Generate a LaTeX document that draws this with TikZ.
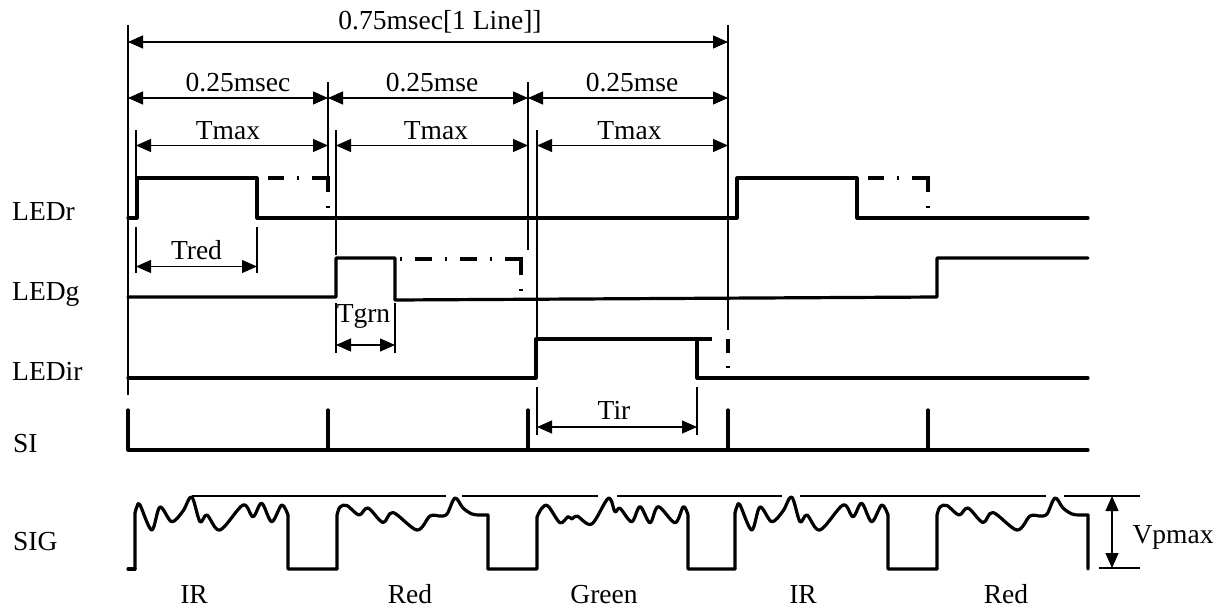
\documentclass[tikz,border=0pt]{standalone}
\usepackage{fontspec}
\setmainfont{Liberation Serif}
\usetikzlibrary{arrows.meta}

\tikzset{
	sig/.style={line width=3.2pt, line cap=round, line join=round},
	dashsig/.style={line width=3.2pt, line cap=butt},
	ext/.style={line width=1.2pt},
	dimline/.style={line width=1.2pt, {Triangle[length=15pt,width=13pt]}-{Triangle[length=15pt,width=13pt]}},
	wave/.style={smooth, tension=0.55},
	lbl/.style={anchor=base west},
	tag/.style={anchor=base},
}

\begin{document}
\begin{tikzpicture}[x=1pt, y=-1pt, every node/.style={inner sep=0pt}, font=\fontsize{27.5}{30}\selectfont]
	\useasboundingbox (0,0) rectangle (1228,608);

	% row names
	\node[lbl] (ledr) at (12,220) {LEDr};
	\node[lbl] (ledg) at (12,300) {LEDg};
	\node[lbl] (ledir) at (12,380) {LEDir};
	\node[lbl] (si) at (13,452) {SI};
	\node[lbl] (sig) at (13,550) {SIG};

	% extension lines
	\foreach \x/\a/\b in {128/25/395, 728/25/330, 328/82/178, 528/82/250, 136/130/178, 336/130/255, 537/130/337,
			136/227/273, 257/227/273, 336/303/353, 395/303/353, 537/387/435, 697/387/435}
		\draw[ext] (\x,\a) -- (\x,\b);

	% time spans
	\coordinate (L0) at (128,42);
	\coordinate (L3) at (728,42);
	\coordinate (P0) at (128,98);
	\coordinate (P1) at (328,98);
	\coordinate (P2) at (528,98);
	\coordinate (P3) at (728,98);
	\coordinate (M0) at (136,145.5);
	\coordinate (M1) at (328,145.5);
	\coordinate (M2) at (336,145.5);
	\coordinate (M3) at (528,145.5);
	\coordinate (M4) at (537,145.5);
	\coordinate (M5) at (728,145.5);
	\coordinate (R0) at (136,266.5);
	\coordinate (R1) at (257,266.5);
	\coordinate (G0) at (336,345);
	\coordinate (G1) at (395,345);
	\coordinate (I0) at (537,427);
	\coordinate (I1) at (697,427);
	\coordinate (V0) at (1112,496);
	\coordinate (V1) at (1112,568);

	\path[dimline]
		(L0) edge node[above=8pt, xshift=12pt] (line) {0.75msec[1 Line]]} (L3)
		(P0) edge node[above=6pt, xshift=10pt] (span1) {0.25msec} (P1)
		(P1) edge node[above=6pt, xshift=4pt] (span2) {0.25mse} (P2)
		(P2) edge node[above=6pt, xshift=4pt] (span3) {0.25mse} (P3)
		(M0) edge node[above=5.5pt, xshift=-4pt] (tmax1) {Tmax} (M1)
		(M2) edge node[above=5.5pt, xshift=4pt] (tmax2) {Tmax} (M3)
		(M4) edge node[above=5.5pt, xshift=-3pt] (tmax3) {Tmax} (M5)
		(R0) edge node[above=6.5pt] (tred) {Tred} (R1)
		(G0) edge node[above=16pt, xshift=-2pt] (tgrn) {Tgrn} (G1)
		(I0) edge node[above=7pt, xshift=-3pt] (tir) {Tir} (I1)
		(V0) edge node[right=20pt, yshift=-5pt] (vp) {Vpmax} (V1);

	% LED drive signals
	\draw[sig] (128,218) -- (137,218) -- (137,178) -- (257,178) -- (257,218) -- (737,218)
		-- (737,178) -- (857,178) -- (857,218) -- (1088,218);
	\foreach \s in {0,600}
		\draw[dashsig, xshift=\s, dash pattern=on 16pt off 13pt on 2pt off 13pt on 30pt off 14pt on 2pt off 60pt]
			(268,178) -- (328,178) -- (328,212);
	\draw[sig] (128,297) -- (336,297) -- (336,258) -- (395,258) -- (395,300) -- (937,297) -- (937,258) -- (1088,258);
	\draw[dashsig, dash pattern=on 2pt off 13pt on 17pt off 13pt on 2pt off 13pt on 17pt off 13pt on 2pt off 13pt on 32pt off 14pt on 2pt off 60pt]
		(400,259) -- (521,259) -- (521,295);
	\draw[sig] (128,378) -- (536,378) -- (536,339) -- (697,339) -- (697,378) -- (1088,378);
	\draw[dashsig, dash pattern=on 15pt off 16pt on 14pt off 13pt on 2pt off 60pt]
		(697,339) -- (728,339) -- (728,372);

	% SI pulses
	\draw[sig] (128,410) -- (128,450) -- (1088,450);
	\foreach \x in {328,528,728,928}
		\draw[sig] (\x,410) -- (\x,450);

	% SIG output
	\draw[sig] (128,569) -- (135,569);
	\foreach \s in {0,600} {
		\draw[sig, xshift=\s] (135,569) -- (135,513) -- plot[wave] coordinates {(135,513) (137,506.5) (140,505)
			(151.7,530) (160,507) (171.7,521.7) (183,511) (191.7,497) (200,521.7) (207,515) (220,530) (243,505)
			(253,516.7) (261.7,503.3) (271.7,521.7) (281.7,505) (288,515)} -- (288,569) -- (337,569);
		\draw[sig, xshift=\s] (337,569) -- (337,515) -- plot[wave] coordinates {(337,515) (340,507) (347,505.5)
			(359,515) (368,508) (383,522.5) (393,512.5) (417,530) (430,516) (440,516) (447,514) (455,498)
			(463,508) (472,514) (480,515) (488,515)} -- (488,569);
	}
	\draw[sig] (488,569) -- (537,569) -- (537,517) -- plot[wave] coordinates {(537,517) (541.7,508.3) (548,506)
		(560,522.7) (568,516.7) (572,519) (577,516) (591.7,524) (608.3,498.3) (615,511.7) (620,508.3) (631.7,521.7)
		(640,506.7) (650,522.7) (658.3,506.7) (675,522.7) (683.3,506.7) (688,515)} -- (688,569) -- (735,569);

	% peak reference lines
	\foreach \a/\b in {192/446, 462/598, 617/782, 800/1046, 1064/1140}
		\draw[ext] (\a,496) -- (\b,496);
	\draw[ext] (1099,568) -- (1140,568);

	% colour slots
	\node[tag] (c1) at (194,603) {IR};
	\node[tag] (c2) at (410,603) {Red};
	\node[tag] (c3) at (604,603) {Green};
	\node[tag] (c4) at (803,603) {IR};
	\node[tag] (c5) at (1006,603) {Red};
\end{tikzpicture}
\end{document}
